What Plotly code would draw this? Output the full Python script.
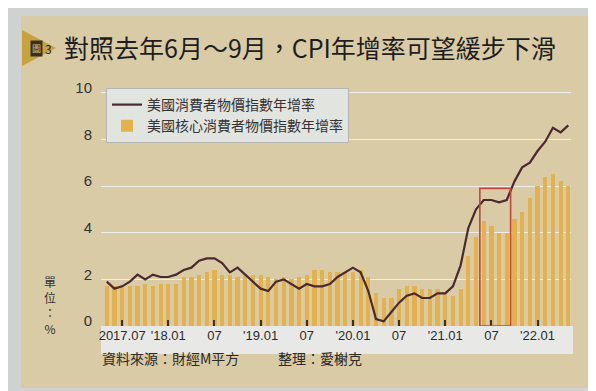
import plotly.graph_objects as go

# ---- data (monthly, 2017.05 - 2022.05) ----
months = list(range(61))
cpi_yoy = [1.9, 1.6, 1.7, 1.9, 2.2, 2.0, 2.2, 2.1,
           2.1, 2.2, 2.4, 2.5, 2.8, 2.9, 2.9, 2.7, 2.3, 2.5, 2.2, 1.9,
           1.6, 1.5, 1.9, 2.0, 1.8, 1.6, 1.8, 1.7, 1.7, 1.8, 2.1, 2.3,
           2.5, 2.3, 1.5, 0.3, 0.2, 0.6, 1.0, 1.3, 1.4, 1.2, 1.2, 1.4,
           1.4, 1.7, 2.6, 4.2, 5.0, 5.4, 5.4, 5.3, 5.4, 6.2, 6.8, 7.0,
           7.5, 7.9, 8.5, 8.3, 8.6]
core_yoy = [1.7, 1.7, 1.7, 1.7, 1.7, 1.8, 1.7, 1.8,
            1.8, 1.8, 2.1, 2.1, 2.2, 2.3, 2.4, 2.2, 2.2, 2.1, 2.2, 2.2,
            2.2, 2.1, 2.0, 2.1, 2.0, 2.1, 2.2, 2.4, 2.4, 2.3, 2.3, 2.3,
            2.3, 2.4, 2.1, 1.4, 1.2, 1.2, 1.6, 1.7, 1.7, 1.6, 1.6, 1.6,
            1.4, 1.3, 1.6, 3.0, 3.8, 4.5, 4.3, 4.0, 4.0, 4.6, 4.9, 5.5,
            6.0, 6.4, 6.5, 6.2, 6.0]
tick_pos = [2, 8, 14, 20, 26, 32, 38, 44, 50, 56]
tick_text = ["2017.07", "'18.01", "07", "'19.01", "07", "'20.01", "07", "'21.01", "07", "'22.01"]
y_ticks = [0, 2, 4, 6, 8, 10]
box_months = [48.5, 52.5]
box_top = 5.9

name_cpi = "美國消費者物價指數年增率"
name_core = "美國核心消費者物價指數年增率"

W, H = 596, 391
L, R, T, B = 93, 33, 70, 73
pw, ph = W - L - R, H - T - B


def px(x):
    return (x - L) / pw


def py(y):
    return (H - B - y) / ph


CJK = "Noto Sans CJK TC, Noto Sans CJK SC, sans-serif"

fig = go.Figure()
fig.add_trace(go.Scatter(x=months, y=cpi_yoy, mode="lines", name=name_cpi,
                         line=dict(color="#4a2a2e", width=2.2)))
fig.add_trace(go.Bar(x=months, y=core_yoy, name=name_core, width=0.55,
                     marker=dict(color="#e4b14f", line=dict(width=0))))

shapes = [
    # beige panel
    dict(type="rect", xref="paper", yref="paper", layer="below",
         x0=px(13), x1=px(588), y0=py(380), y1=py(8),
         fillcolor="#d9cba6", line=dict(width=0)),
    # x label strip
    dict(type="rect", xref="paper", yref="paper", layer="below",
         x0=px(93), x1=px(565), y0=py(346), y1=0,
         fillcolor="#e8e9e6", line=dict(width=0)),
    # gold triangle
    dict(type="path", xref="paper", yref="paper",
         path=f"M {px(14)},{py(22)} L {px(48)},{py(40)} L {px(14)},{py(58)} Z",
         fillcolor="#c9a23e", line=dict(width=0)),
    # red highlight box
    dict(type="rect", xref="x", yref="y", x0=box_months[0], x1=box_months[1],
         y0=0, y1=box_top, line=dict(color="#c8443f", width=1.6)),
]

annotations = [
    dict(text="對照去年6月～9月，CPI年增率可望緩步下滑", xref="paper", yref="paper",
         x=px(54), y=py(39), xanchor="left", yanchor="middle", showarrow=False,
         font=dict(family=CJK, size=25, color="#1e1e1e")),
    dict(text="圖", xref="paper", yref="paper", x=px(28), y=py(40),
         xanchor="center", yanchor="middle", showarrow=False, bgcolor="#3a3020",
         font=dict(family=CJK, size=9, color="#d9c27a")),
    dict(text="3", xref="paper", yref="paper", x=px(40), y=py(40),
         xanchor="center", yanchor="middle", showarrow=False,
         font=dict(family=CJK, size=12, color="#222222")),
    dict(text="資料來源：財經M平方", xref="paper", yref="paper", x=px(92), y=py(350),
         xanchor="left", yanchor="middle", showarrow=False,
         font=dict(family=CJK, size=14, color="#2a2a2a")),
    dict(text="整理：愛榭克", xref="paper", yref="paper", x=px(268), y=py(350),
         xanchor="left", yanchor="middle", showarrow=False,
         font=dict(family=CJK, size=14, color="#2a2a2a")),
    dict(text="單<br>位<br>：<br>%", xref="paper", yref="paper", x=px(42), y=py(297),
         xanchor="center", yanchor="middle", showarrow=False,
         font=dict(family=CJK, size=12, color="#333333")),
]

fig.update_layout(
    width=W, height=H,
    margin=dict(l=L, r=R, t=T, b=B, pad=0),
    paper_bgcolor="#cfd2d1",
    plot_bgcolor="#dfe1dd",
    bargap=0,
    shapes=shapes,
    annotations=annotations,
    showlegend=True,
    legend=dict(x=px(98), y=py(80), xanchor="left", yanchor="top",
                bgcolor="#e2e4e0", bordercolor="#b5b5b2", borderwidth=1,
                font=dict(family=CJK, size=14, color="#333333"),
                tracegroupgap=0, itemwidth=30),
    xaxis=dict(range=[-0.75, 60.35], tickvals=tick_pos, ticktext=tick_text,
               ticks="inside", ticklen=6, tickcolor="#333333", tickwidth=1.5,
               tickangle=0, showgrid=False, zeroline=False, showline=False,
               tickfont=dict(family="Liberation Sans, sans-serif", size=13, color="#2a2a2a")),
    yaxis=dict(range=[0, 10.63], tickvals=y_ticks, ticks="", showline=False,
               gridcolor="#eceeea", gridwidth=1, zeroline=False,
               ticklabelshift=-5, ticklabelstandoff=8,
               tickfont=dict(family="Liberation Sans, sans-serif", size=15, color="#333333")),
    font=dict(family=CJK),
)

fig.write_html("out.html")
